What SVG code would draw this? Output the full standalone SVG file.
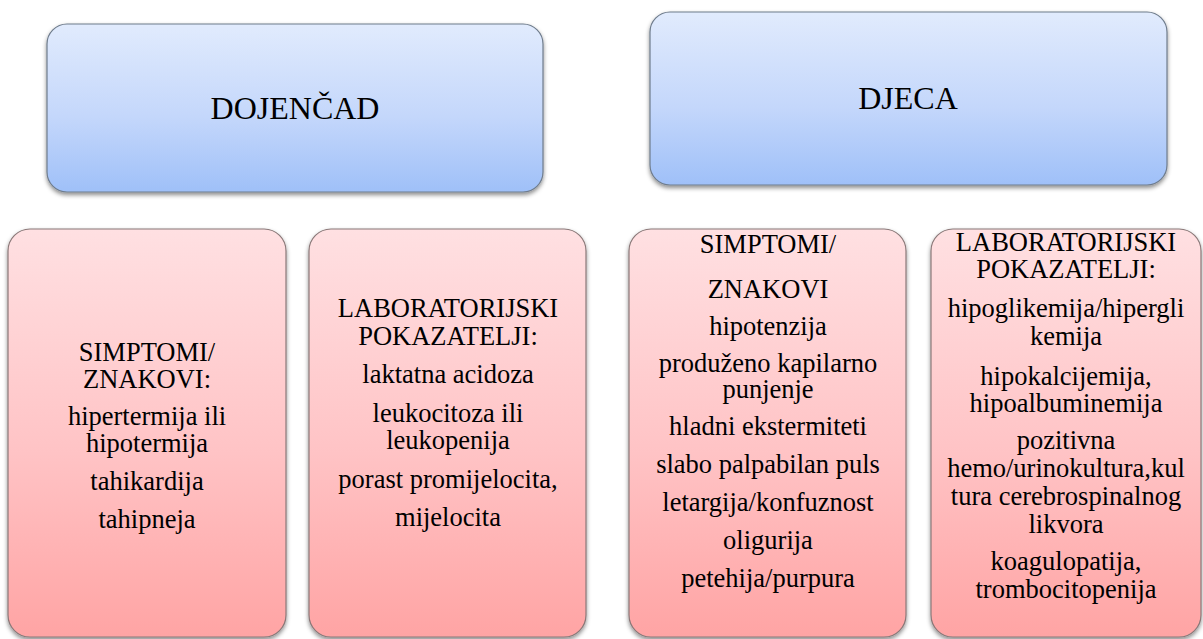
<svg xmlns="http://www.w3.org/2000/svg" width="1203" height="639" viewBox="0 0 1203 639">
<style>
  .blue { fill: url(#gBlue); stroke: #6f7c8c; stroke-width: 1.2; filter: url(#sh); }
  .pink { fill: url(#gPink); stroke: #8a7878; stroke-width: 1.2; filter: url(#sh); }
  text { font-family: 'Liberation Serif', 'DejaVu Serif', serif; fill: #000; text-anchor: middle; }
  .title { font-size: 32px; }
  .t { font-size: 26.5px; }
</style>
<defs>
  <linearGradient id="gBlue" x1="0" y1="0" x2="0" y2="1">
    <stop offset="0" stop-color="#e1ebfd"/>
    <stop offset="0.55" stop-color="#c4d7fb"/>
    <stop offset="1" stop-color="#9fc0f8"/>
  </linearGradient>
  <linearGradient id="gPink" x1="0" y1="0" x2="0" y2="1">
    <stop offset="0" stop-color="#ffe0e2"/>
    <stop offset="0.55" stop-color="#ffc3c5"/>
    <stop offset="1" stop-color="#ffa4a4"/>
  </linearGradient>
  <filter id="sh" x="-5%" y="-5%" width="110%" height="115%">
    <feDropShadow dx="0" dy="2.5" stdDeviation="2" flood-color="#000" flood-opacity="0.45"/>
  </filter>
</defs>
<rect width="1203" height="639" fill="#ffffff"/>
<g id="connectors"></g>
<g id="dojencad">
  <rect class="blue" x="47" y="24" width="496" height="168" rx="20" ry="20"/>
  <text class="title" x="295" y="119">DOJENČAD</text>
</g>
<g id="djeca">
  <rect class="blue" x="650" y="12" width="517" height="173" rx="20" ry="20"/>
  <text class="title" x="908" y="109">DJECA</text>
</g>
<g id="dojencad-simptomi">
  <rect class="pink" x="8" y="229" width="278" height="408" rx="22" ry="22"/>
  <text class="t" x="147" y="361">SIMPTOMI/</text>
  <text class="t" x="147" y="388">ZNAKOVI:</text>
  <text class="t" x="147" y="425">hipertermija ili</text>
  <text class="t" x="147" y="452">hipotermija</text>
  <text class="t" x="147" y="490">tahikardija</text>
  <text class="t" x="147" y="528">tahipneja</text>
</g>
<g id="dojencad-laboratorij">
  <rect class="pink" x="309" y="229" width="277" height="408" rx="22" ry="22"/>
  <text class="t" x="448" y="317">LABORATORIJSKI</text>
  <text class="t" x="448" y="345">POKAZATELJI:</text>
  <text class="t" x="448" y="383">laktatna acidoza</text>
  <text class="t" x="448" y="422">leukocitoza ili</text>
  <text class="t" x="448" y="449">leukopenija</text>
  <text class="t" x="448" y="488">porast promijelocita,</text>
  <text class="t" x="448" y="526">mijelocita</text>
</g>
<g id="djeca-simptomi">
  <rect class="pink" x="629" y="229" width="277" height="408" rx="22" ry="22"/>
  <text class="t" x="768" y="253">SIMPTOMI/</text>
  <text class="t" x="768" y="298">ZNAKOVI</text>
  <text class="t" x="768" y="335">hipotenzija</text>
  <text class="t" x="768" y="372">produženo kapilarno</text>
  <text class="t" x="768" y="398">punjenje</text>
  <text class="t" x="768" y="435">hladni ekstermiteti</text>
  <text class="t" x="768" y="473">slabo palpabilan puls</text>
  <text class="t" x="768" y="511">letargija/konfuznost</text>
  <text class="t" x="768" y="549">oligurija</text>
  <text class="t" x="768" y="587">petehija/purpura</text>
</g>
<g id="djeca-laboratorij">
  <rect class="pink" x="931" y="229" width="270" height="408" rx="22" ry="22"/>
  <text class="t" x="1066" y="251">LABORATORIJSKI</text>
  <text class="t" x="1066" y="278">POKAZATELJI:</text>
  <text class="t" x="1066" y="317">hipoglikemija/hipergli</text>
  <text class="t" x="1066" y="345">kemija</text>
  <text class="t" x="1066" y="385">hipokalcijemija,</text>
  <text class="t" x="1066" y="412">hipoalbuminemija</text>
  <text class="t" x="1066" y="449">pozitivna</text>
  <text class="t" x="1066" y="477">hemo/urinokultura,kul</text>
  <text class="t" x="1066" y="505">tura cerebrospinalnog</text>
  <text class="t" x="1066" y="533">likvora</text>
  <text class="t" x="1066" y="570">koagulopatija,</text>
  <text class="t" x="1066" y="598">trombocitopenija</text>
</g>
</svg>
